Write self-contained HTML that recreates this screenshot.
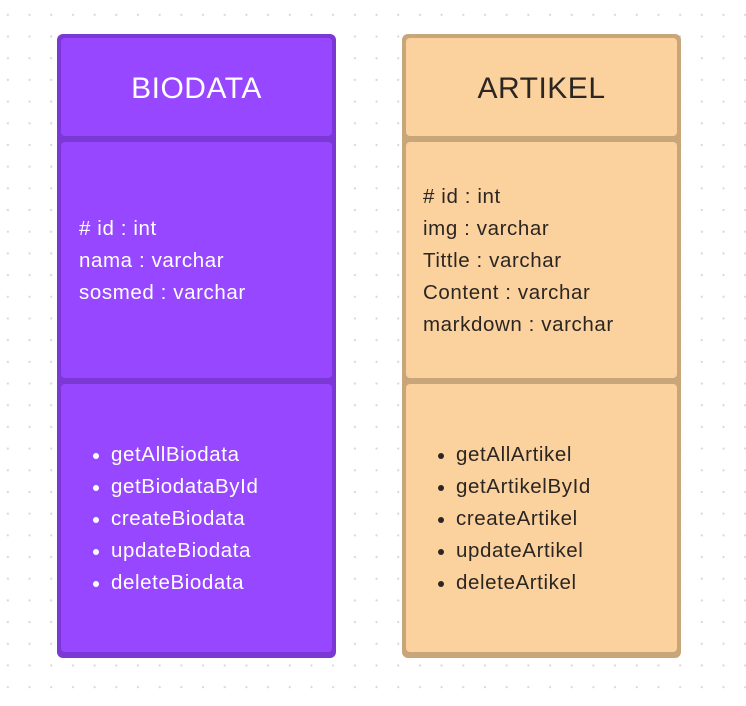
<!DOCTYPE html>
<html><head><meta charset="utf-8"><style>
html,body{margin:0;padding:0}
body{width:746px;height:706px;position:relative;overflow:hidden;background:#fff;
background-image:radial-gradient(circle,#d9d9d9 1px,transparent 1.3px);background-size:21.7px 21.7px;background-position:-3px 4px;
font-family:"Liberation Sans",sans-serif}
.box{position:absolute;top:34px;width:279px;height:624px;box-sizing:border-box;border-radius:6px}
.sec{position:absolute;left:0;right:0;box-sizing:border-box;border-radius:4px}
.t{position:absolute;white-space:nowrap;font-size:20.5px;letter-spacing:0.6px;line-height:32px}
.h{position:absolute;left:0;right:0;text-align:center;font-size:30px;letter-spacing:0.5px}
ul{margin:0;padding:0;list-style:none}
li{position:relative;padding-left:32px}
li:before{content:"";position:absolute;left:14px;top:14px;width:6px;height:6px;border-radius:50%;background:currentColor}
</style></head><body>
<div class="box" style="left:57px;background:#7b38d4;color:#fff">
 <div class="sec" style="top:4px;left:4px;right:4px;height:98px;background:#9747ff"><div class="h" style="top:34px">BIODATA</div></div>
 <div class="sec" style="top:108px;left:4px;right:4px;height:236px;background:#9747ff">
  <div class="t" style="left:18px;top:71px"># id : int<br>nama : varchar<br>sosmed : varchar</div></div>
 <div class="sec" style="top:350px;left:4px;right:4px;height:268px;background:#9747ff">
  <ul class="t" style="left:18px;top:55px"><li>getAllBiodata</li><li>getBiodataById</li><li>createBiodata</li><li>updateBiodata</li><li>deleteBiodata</li></ul></div>
</div>
<div class="box" style="left:402px;background:#c9a57a;color:#2b2622">
 <div class="sec" style="top:4px;left:4px;right:4px;height:98px;background:#fbd19e"><div class="h" style="top:34px">ARTIKEL</div></div>
 <div class="sec" style="top:108px;left:4px;right:4px;height:236px;background:#fbd19e">
  <div class="t" style="left:17px;top:39px"># id : int<br>img : varchar<br>Tittle : varchar<br>Content : varchar<br>markdown : varchar</div></div>
 <div class="sec" style="top:350px;left:4px;right:4px;height:268px;background:#fbd19e">
  <ul class="t" style="left:18px;top:55px"><li>getAllArtikel</li><li>getArtikelById</li><li>createArtikel</li><li>updateArtikel</li><li>deleteArtikel</li></ul></div>
</div>
</body></html>
